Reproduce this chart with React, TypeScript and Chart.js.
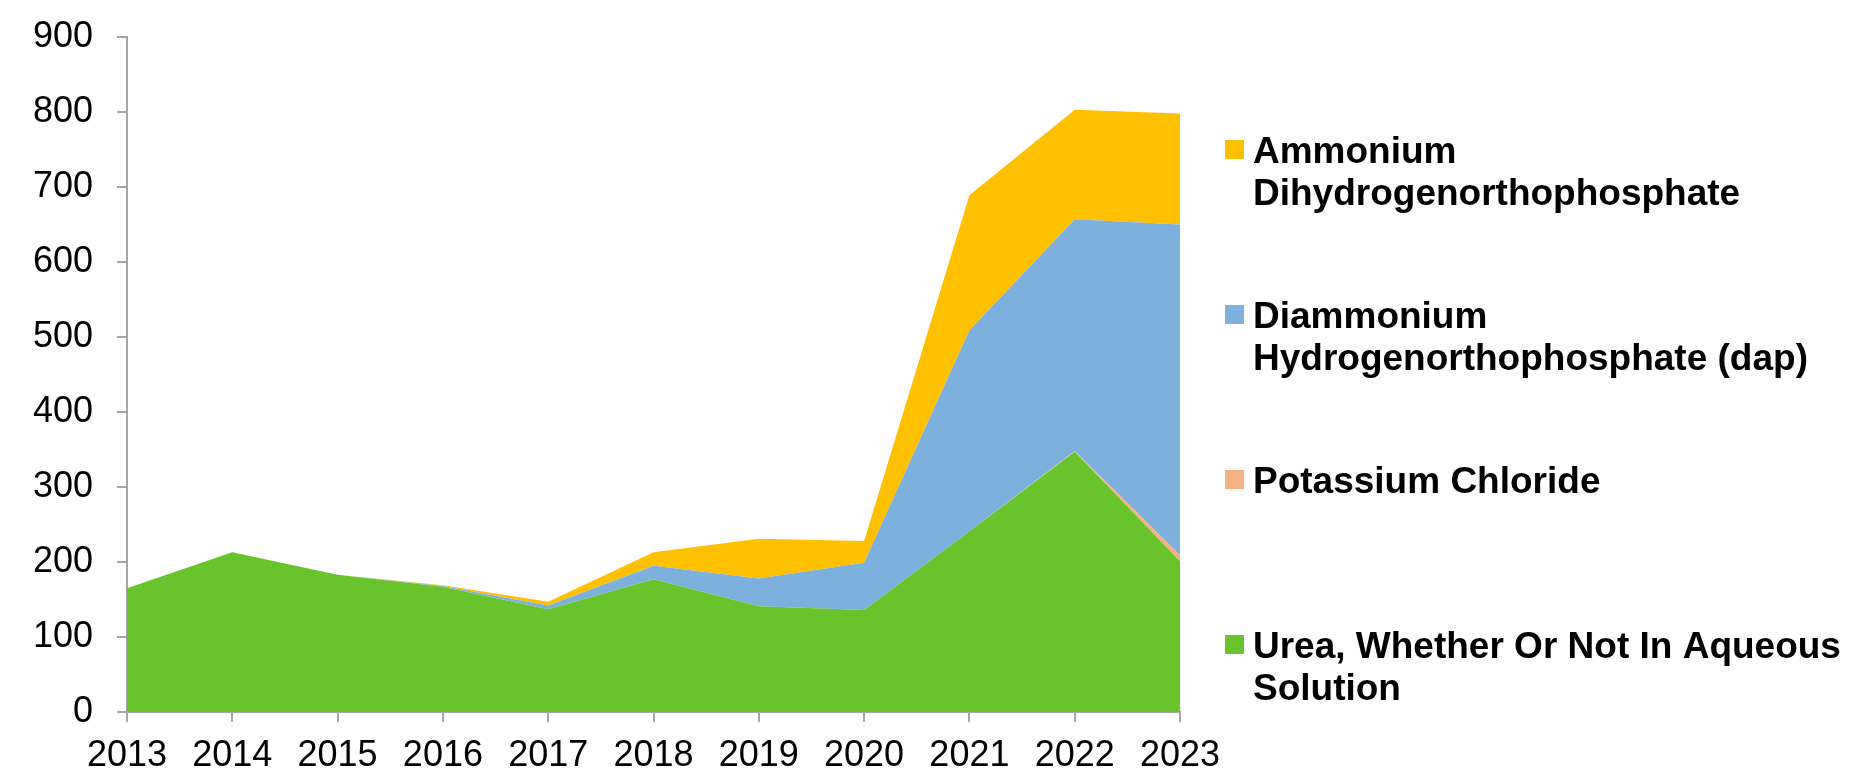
import React, { useEffect, useRef } from "react";
import { Chart, registerables } from "chart.js";

Chart.register(...registerables);

const FONT = "'Liberation Sans', Arial, sans-serif";

const years = ["2013", "2014", "2015", "2016", "2017", "2018", "2019", "2020", "2021", "2022", "2023"];
const ureaValues = [165, 213, 183, 167, 137, 177, 141, 136, 241, 347, 201];
const potassiumValues = [0, 0, 0, 0, 0, 0, 0, 0, 0, 1, 8];
const dapValues = [0, 0, 0, 1, 5, 18, 37, 63, 268, 309, 441];
const adpValues = [0, 0, 0, 1, 5, 18, 53, 29, 180, 146, 148];

const seriesNames = [
  "Urea, Whether Or Not In Aqueous Solution",
  "Potassium Chloride",
  "Diammonium Hydrogenorthophosphate (dap)",
  "Ammonium Dihydrogenorthophosphate",
];
const seriesColors = ["#68C32D", "#F4B183", "#7EB0DD", "#FFC000"];

const yMin = 0;
const yMax = 900;
const yStep = 100;

function wrapText(ctx: CanvasRenderingContext2D, text: string, maxWidth: number): string[] {
  const words = text.split(" ");
  const lines: string[] = [];
  let cur = "";
  for (const w of words) {
    const test = cur ? cur + " " + w : w;
    if (cur && ctx.measureText(test).width > maxWidth) {
      lines.push(cur);
      cur = w;
    } else {
      cur = test;
    }
  }
  if (cur) lines.push(cur);
  return lines;
}

const sideLegend = {
  id: "sideLegend",
  afterDraw(chart: any, _args: any, opts: any) {
    const ctx: CanvasRenderingContext2D = chart.ctx;
    ctx.save();
    ctx.font = `bold ${opts.fontSize}px ${FONT}`;
    ctx.textBaseline = "alphabetic";
    ctx.textAlign = "left";
    const items = [...chart.data.datasets].reverse();
    items.forEach((ds: any, i: number) => {
      const baseY = opts.top + i * opts.spacing;
      ctx.fillStyle = ds.backgroundColor;
      ctx.fillRect(opts.boxX, baseY - opts.boxOffset, opts.boxSize, opts.boxSize);
      ctx.fillStyle = "#000000";
      const lines = wrapText(ctx, ds.label, opts.maxWidth);
      lines.forEach((ln, j) => {
        ctx.fillText(ln, opts.textX, baseY + j * opts.lineHeight);
      });
    });
    ctx.restore();
  },
};

export default function App() {
  const canvasRef = useRef<HTMLCanvasElement | null>(null);

  useEffect(() => {
    if (!canvasRef.current) return;
    const valueSets = [ureaValues, potassiumValues, dapValues, adpValues];
    const chart = new Chart(canvasRef.current, {
      type: "line",
      data: {
        labels: years,
        datasets: valueSets.map((vals, i) => ({
          label: seriesNames[i],
          data: vals,
          backgroundColor: seriesColors[i],
          borderColor: seriesColors[i],
          borderWidth: 0,
          pointRadius: 0,
          pointHoverRadius: 0,
          fill: i === 0 ? "origin" : "-1",
          tension: 0,
        })),
      },
      options: {
        animation: false,
        responsive: true,
        maintainAspectRatio: false,
        layout: { padding: { top: 37, right: 672, left: 0, bottom: 0 } },
        plugins: {
          legend: { display: false },
          tooltip: { enabled: false },
          sideLegend: {
            fontSize: 37,
            top: 163,
            spacing: 165,
            lineHeight: 42,
            boxX: 1225,
            boxSize: 19,
            boxOffset: 23,
            textX: 1253,
            maxWidth: 600,
          },
        } as any,
        scales: {
          x: {
            type: "category",
            offset: false,
            afterFit: (scale: any) => {
              scale.height = 62;
              scale.paddingLeft = 0;
              scale.paddingRight = 0;
            },
            grid: {
              display: true,
              drawOnChartArea: false,
              drawTicks: true,
              tickLength: 10,
              color: "#A6A6A6",
              lineWidth: 2,
            },
            border: { display: true, color: "#A6A6A6", width: 2 },
            ticks: {
              color: "#000000",
              font: { family: FONT, size: 36 },
              padding: 12,
              maxRotation: 0,
              autoSkip: false,
            },
          },
          y: {
            stacked: true,
            min: yMin,
            max: yMax,
            afterFit: (scale: any) => {
              scale.width = 127;
              scale.paddingTop = 0;
              scale.paddingBottom = 0;
            },
            grid: {
              display: true,
              drawOnChartArea: false,
              drawTicks: true,
              tickLength: 10,
              color: "#A6A6A6",
              lineWidth: 2,
            },
            border: { display: true, color: "#A6A6A6", width: 2 },
            ticks: {
              stepSize: yStep,
              color: "#000000",
              font: { family: FONT, size: 36 },
              padding: 24,
            },
          },
        },
      },
      plugins: [sideLegend],
    });
    return () => chart.destroy();
  }, []);

  return (
    <div style={{ position: "absolute", left: 0, top: 0, width: 1852, height: 774, background: "#ffffff" }}>
      <canvas ref={canvasRef} />
    </div>
  );
}
